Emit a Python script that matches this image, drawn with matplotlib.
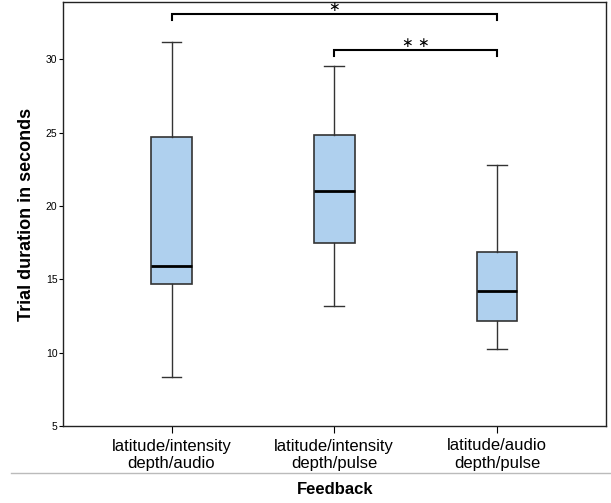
import numpy as np
import matplotlib.pyplot as plt
from matplotlib.lines import Line2D

plt.rcParams["font.family"] = ["Liberation Sans", "DejaVu Sans"]

# ---- box statistics (seconds)
groups = ["latitude/intensity\ndepth/audio",
          "latitude/intensity\ndepth/pulse",
          "latitude/audio\ndepth/pulse"]
whisker_low = [8.36, 13.18, 10.25]
q1 = [14.70, 17.45, 12.16]
median = [15.93, 21.05, 14.23]
q3 = [24.72, 24.82, 16.84]
whisker_high = [31.18, 29.56, 22.77]

# significance brackets: (from group, to group, bracket height, label)
brackets = [(0, 2, 33.1, "\u2217"), (1, 2, 30.63, "\u2217 \u2217")]

stats = []
for i, g in enumerate(groups):
    stats.append({"label": g, "whislo": whisker_low[i], "q1": q1[i],
                  "med": median[i], "q3": q3[i], "whishi": whisker_high[i],
                  "fliers": []})

fig = plt.figure(figsize=(6.11, 5.03), dpi=100)
ax = fig.add_axes([63 / 611, 1 - 426 / 503, 543 / 611, 424 / 503])

pos = np.arange(1, len(groups) + 1)
ax.bxp(stats, positions=pos, widths=0.25, patch_artist=True,
       showfliers=False,
       boxprops=dict(facecolor="#afd0ee", edgecolor="#333333", linewidth=1.2),
       medianprops=dict(color="black", linewidth=2.0),
       whiskerprops=dict(color="#333333", linewidth=1.0),
       capprops=dict(color="#333333", linewidth=1.0),
       capwidths=0.12)

ax.set_xlim(0.333, 3.67)
ax.set_ylim(5, 33.9)
ax.set_yticks([5, 10, 15, 20, 25, 30])
ax.tick_params(axis="y", labelsize=7.5, length=3, width=0.8, pad=1)
ax.tick_params(axis="x", labelsize=12, length=5, width=0.8, pad=4)
for s in ax.spines.values():
    s.set_linewidth(1.0)
    s.set_color("#222222")

ax.set_ylabel("Trial duration in seconds", fontsize=13, fontweight="bold",
              labelpad=8)

# ---- brackets with stars
for a, b, h, lab in brackets:
    xa, xb = pos[a], pos[b]
    ax.plot([xa, xa, xb, xb], [h - 0.42, h, h, h - 0.42], color="black",
            linewidth=1.5, solid_joinstyle="miter")
    ax.text((xa + xb) / 2, h + 0.45, lab, ha="center", va="center",
            fontsize=10, family="DejaVu Sans")

# separator line and axis title under the plot
fig.add_artist(Line2D([11 / 611, 1.0], [1 - 472.7 / 503] * 2,
                      color="#bbbbbb", linewidth=1.0))
fig.text(335 / 611, 1 - 490 / 503, "Feedback", ha="center", va="center",
         fontsize=12, fontweight="bold")

plt.savefig("out.png", dpi=100)
